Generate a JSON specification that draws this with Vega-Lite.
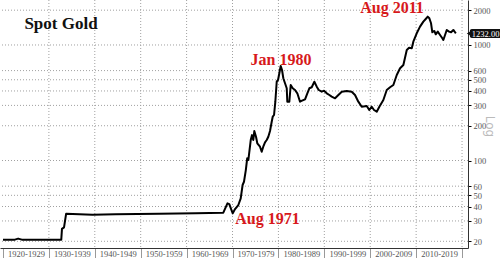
{
  "$schema": "https://vega.github.io/schema/vega-lite/v6.json",
  "width": 468,
  "height": 248,
  "autosize": {"type": "none"},
  "padding": {"left": 0, "top": 0, "right": 32, "bottom": 10},
  "background": "white",
  "config": {"view": {"stroke": null}},
  "datasets": {
    "gold": [
      {"year": 1920.0, "price": 20.67},
      {"year": 1922.6, "price": 20.67},
      {"year": 1923.3, "price": 21.1},
      {"year": 1924.1, "price": 20.67},
      {"year": 1932.7, "price": 20.67},
      {"year": 1932.85, "price": 25.6},
      {"year": 1933.3, "price": 26.4},
      {"year": 1933.75, "price": 34.6},
      {"year": 1939.5, "price": 33.9},
      {"year": 1944.5, "price": 34.2},
      {"year": 1954.0, "price": 34.6},
      {"year": 1962.0, "price": 35.0},
      {"year": 1968.0, "price": 35.4},
      {"year": 1968.9, "price": 42.6},
      {"year": 1969.3, "price": 42.0},
      {"year": 1969.8, "price": 37.0},
      {"year": 1970.05, "price": 34.9},
      {"year": 1970.55, "price": 38.0},
      {"year": 1971.27, "price": 41.2},
      {"year": 1971.79, "price": 47.1},
      {"year": 1972.2, "price": 61.4},
      {"year": 1972.5, "price": 65.5},
      {"year": 1972.9, "price": 82.7},
      {"year": 1973.2, "price": 104.5},
      {"year": 1973.45, "price": 101.0},
      {"year": 1973.97, "price": 150.5},
      {"year": 1974.25, "price": 166.0},
      {"year": 1974.53, "price": 150.5},
      {"year": 1974.75, "price": 180.0},
      {"year": 1975.12, "price": 160.8},
      {"year": 1975.4, "price": 141.0},
      {"year": 1975.99, "price": 131.7},
      {"year": 1976.36, "price": 119.2},
      {"year": 1976.7, "price": 131.7},
      {"year": 1977.08, "price": 143.8},
      {"year": 1977.45, "price": 150.5},
      {"year": 1977.8, "price": 160.8},
      {"year": 1978.17, "price": 180.0},
      {"year": 1978.54, "price": 216.7},
      {"year": 1978.76, "price": 239.4},
      {"year": 1979.05, "price": 247.7},
      {"year": 1979.33, "price": 322.9},
      {"year": 1979.63, "price": 481.0},
      {"year": 1979.92, "price": 498.0},
      {"year": 1980.2, "price": 569.0},
      {"year": 1980.5, "price": 658.0},
      {"year": 1980.79, "price": 607.6},
      {"year": 1981.07, "price": 515.0},
      {"year": 1981.44, "price": 466.0},
      {"year": 1981.81, "price": 421.9},
      {"year": 1981.94, "price": 323.0},
      {"year": 1982.38, "price": 323.0},
      {"year": 1982.68, "price": 450.6},
      {"year": 1983.12, "price": 421.9},
      {"year": 1983.62, "price": 407.7},
      {"year": 1984.12, "price": 381.7},
      {"year": 1984.71, "price": 323.0},
      {"year": 1985.15, "price": 329.4},
      {"year": 1985.8, "price": 338.8},
      {"year": 1986.3, "price": 381.7},
      {"year": 1986.74, "price": 421.9},
      {"year": 1987.26, "price": 430.4},
      {"year": 1987.83, "price": 481.0},
      {"year": 1988.35, "price": 435.5},
      {"year": 1988.78, "price": 407.7},
      {"year": 1989.44, "price": 394.1},
      {"year": 1989.94, "price": 402.0},
      {"year": 1990.53, "price": 381.7},
      {"year": 1991.1, "price": 369.2},
      {"year": 1991.6, "price": 356.9},
      {"year": 1992.34, "price": 345.6},
      {"year": 1993.06, "price": 369.0},
      {"year": 1993.8, "price": 394.0},
      {"year": 1994.88, "price": 399.6},
      {"year": 1995.97, "price": 394.0},
      {"year": 1996.69, "price": 369.0},
      {"year": 1997.41, "price": 323.0},
      {"year": 1998.15, "price": 292.3},
      {"year": 1999.24, "price": 296.4},
      {"year": 1999.8, "price": 273.6},
      {"year": 2000.33, "price": 292.3},
      {"year": 2000.83, "price": 273.6},
      {"year": 2001.42, "price": 264.5},
      {"year": 2001.99, "price": 292.3},
      {"year": 2002.86, "price": 334.1},
      {"year": 2003.6, "price": 407.7},
      {"year": 2004.32, "price": 430.4},
      {"year": 2005.04, "price": 450.6},
      {"year": 2005.78, "price": 549.8},
      {"year": 2006.5, "price": 628.5},
      {"year": 2007.22, "price": 671.0},
      {"year": 2007.96, "price": 905.0},
      {"year": 2008.46, "price": 947.5},
      {"year": 2009.05, "price": 936.0},
      {"year": 2009.39, "price": 1068.0},
      {"year": 2010.13, "price": 1263.0},
      {"year": 2010.85, "price": 1440.0},
      {"year": 2011.57, "price": 1591.0},
      {"year": 2012.09, "price": 1679.0},
      {"year": 2012.53, "price": 1758.0},
      {"year": 2012.88, "price": 1703.0},
      {"year": 2013.25, "price": 1541.0},
      {"year": 2013.53, "price": 1288.0},
      {"year": 2013.97, "price": 1322.0},
      {"year": 2014.27, "price": 1237.0},
      {"year": 2014.71, "price": 1304.0},
      {"year": 2015.21, "price": 1221.0},
      {"year": 2015.71, "price": 1143.0},
      {"year": 2015.93, "price": 1105.0},
      {"year": 2016.3, "price": 1221.0},
      {"year": 2016.67, "price": 1349.0},
      {"year": 2017.17, "price": 1304.0},
      {"year": 2017.61, "price": 1288.0},
      {"year": 2018.11, "price": 1349.0},
      {"year": 2018.48, "price": 1288.0},
      {"year": 2018.65, "price": 1260.0}
    ],
    "pricegrid": [
      {"price": 20}, {"price": 30}, {"price": 40}, {"price": 50}, {"price": 60},
      {"price": 100}, {"price": 200}, {"price": 300}, {"price": 400}, {"price": 500},
      {"price": 600}, {"price": 1000}, {"price": 2000}
    ],
    "yeargrid": [
      {"year": 1930}, {"year": 1940}, {"year": 1950}, {"year": 1960}, {"year": 1970},
      {"year": 1980}, {"year": 1990}, {"year": 2000}, {"year": 2010}, {"year": 2020}
    ],
    "events": [
      {"year": 1977.63, "price": 31.2, "label": "Aug 1971"},
      {"year": 1980.57, "price": 742, "label": "Jan 1980"},
      {"year": 2004.75, "price": 2070, "label": "Aug 2011"}
    ],
    "heading": [
      {"year": 1932.64, "price": 1520, "label": "Spot Gold"}
    ],
    "last": [
      {"label": "1232.00"}
    ]
  },
  "layer": [
    {
      "data": {"name": "pricegrid"},
      "mark": {"type": "rule", "color": "#a0a0a0", "strokeDash": [1, 2], "strokeWidth": 1},
      "encoding": {
        "y": {"field": "price", "type": "quantitative", "scale": {"type": "log"}}
      }
    },
    {
      "data": {"name": "yeargrid"},
      "mark": {"type": "rule", "color": "#a0a0a0", "strokeDash": [1, 2], "strokeWidth": 1},
      "encoding": {
        "x": {"field": "year", "type": "quantitative"}
      }
    },
    {
      "data": {"name": "gold"},
      "mark": {"type": "line", "color": "#000000", "strokeWidth": 2, "strokeJoin": "round"},
      "encoding": {
        "x": {
          "field": "year",
          "type": "quantitative",
          "scale": {"domain": [1919.35, 2021.3], "nice": false, "zero": false},
          "axis": {
            "orient": "bottom",
            "title": null,
            "values": [1920, 1930, 1940, 1950, 1960, 1970, 1980, 1990, 2000, 2010, 2020],
            "labelExpr": "datum.value < 2020 ? datum.value + '-' + (datum.value + 9) : ''",
            "labelOffset": 23,
            "labelPadding": -9,
            "labelFont": "Liberation Serif",
            "labelFontSize": 8.5,
            "labelColor": "#555555",
            "labelFlush": false,
            "labelOverlap": false,
            "tickSize": 10,
            "tickColor": "#999999",
            "tickWidth": 1,
            "domainColor": "#333333",
            "domainWidth": 1,
            "grid": false
          }
        },
        "y": {
          "field": "price",
          "type": "quantitative",
          "scale": {"type": "log", "domain": [17.5, 2450], "nice": false},
          "axis": {
            "orient": "right",
            "title": "Log",
            "titleFont": "DejaVu Sans",
            "titleFontSize": 12,
            "titleFontWeight": "normal",
            "titleColor": "#bbbbbb",
            "titleAngle": 90,
            "titleX": 21,
            "titleY": 126,
            "titleAlign": "center",
            "titleBaseline": "middle",
            "values": [20, 30, 40, 50, 60, 100, 200, 300, 400, 500, 600, 1000, 2000],
            "format": "d",
            "labelFont": "Liberation Serif",
            "labelFontSize": 8.5,
            "labelColor": "#555555",
            "labelPadding": 2,
            "tickSize": 3,
            "tickColor": "#000000",
            "domainColor": "#333333",
            "grid": false
          }
        }
      }
    },
    {
      "data": {"name": "events"},
      "mark": {"type": "text", "font": "Liberation Serif", "fontWeight": "bold", "fontSize": 16, "color": "#d7191c", "align": "center", "baseline": "middle"},
      "encoding": {
        "x": {"field": "year", "type": "quantitative"},
        "y": {"field": "price", "type": "quantitative", "scale": {"type": "log"}},
        "text": {"field": "label"}
      }
    },
    {
      "data": {"name": "heading"},
      "mark": {"type": "text", "font": "Liberation Serif", "fontWeight": "bold", "fontSize": 17, "color": "#111111", "align": "center", "baseline": "middle"},
      "encoding": {
        "x": {"field": "year", "type": "quantitative"},
        "y": {"field": "price", "type": "quantitative", "scale": {"type": "log"}},
        "text": {"field": "label"}
      }
    },
    {
      "data": {"name": "last"},
      "mark": {"type": "rect", "color": "#111111", "cornerRadius": 2, "clip": false},
      "encoding": {
        "x": {"datum": 2021.7},
        "x2": {"datum": 2028.6},
        "y": {"datum": 1150, "type": "quantitative", "scale": {"type": "log"}},
        "y2": {"datum": 1376}
      }
    },
    {
      "data": {"name": "last"},
      "mark": {"type": "point", "shape": "triangle-left", "filled": true, "color": "#111111", "size": 30, "opacity": 1},
      "encoding": {
        "x": {"datum": 2021.55},
        "y": {"datum": 1258, "type": "quantitative", "scale": {"type": "log"}}
      }
    },
    {
      "data": {"name": "last"},
      "mark": {"type": "text", "font": "Liberation Serif", "fontSize": 8.5, "color": "#ffffff", "align": "center", "baseline": "middle"},
      "encoding": {
        "x": {"datum": 2025.15},
        "y": {"datum": 1250, "type": "quantitative", "scale": {"type": "log"}},
        "text": {"field": "label"}
      }
    }
  ]
}
